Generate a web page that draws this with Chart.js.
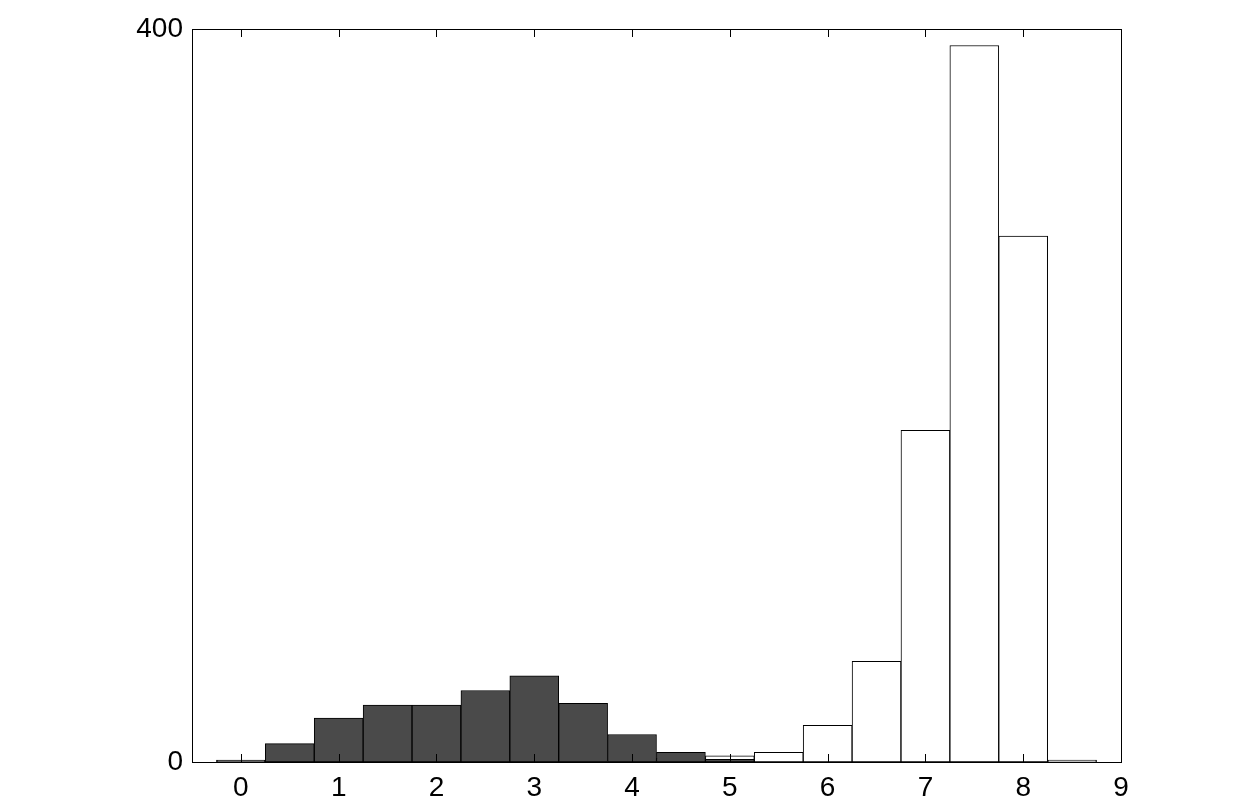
<!DOCTYPE html>
<html>
<head>
<meta charset="utf-8">
<script src="https://cdn.jsdelivr.net/npm/chart.js@4/dist/chart.umd.min.js"></script>
<style>
  html, body { margin: 0; padding: 0; background: #fff; }
  #wrap { width: 1240px; height: 806px; }
</style>
</head>
<body>
<div id="wrap"><canvas id="myChart" width="1240" height="806"></canvas></div>
<script>
  // bin centres and counts
  const binCenters = [0, 0.5, 1, 1.5, 2, 2.5, 3, 3.5, 4, 4.5, 5, 5.5, 6, 6.5, 7, 7.5, 8, 8.5];
  const darkCounts = [1, 10, 24, 31, 31, 39, 47, 32, 15, 5.3, 1.5, null, null, null, null, null, null, null];
  const whiteCounts = [null, null, null, null, null, null, null, null, null, 2, 3.3, 5.3, 20, 55, 181, 391, 287, 1];
  const xTicks = [0, 1, 2, 3, 4, 5, 6, 7, 8, 9];
  const yTicks = [0, 400];

  const toPoints = function (values) {
    return binCenters.map(function (x, i) {
      return { x: x, y: values[i] };
    });
  };

  /* box round the plot area plus small inward tick marks on all four sides */
  const framePlugin = {
    id: 'frame',
    afterDatasetsDraw: function (chart) {
      const ctx = chart.ctx;
      const area = chart.chartArea;
      const xs = chart.scales.x;
      const ys = chart.scales.y;
      const len = 8;
      ctx.save();
      ctx.strokeStyle = '#000';
      ctx.lineWidth = 1;
      ctx.beginPath();
      xTicks.forEach(function (v) {
        const px = Math.round(xs.getPixelForValue(v)) + 0.5;
        ctx.moveTo(px, area.bottom);
        ctx.lineTo(px, area.bottom - len);
        ctx.moveTo(px, area.top);
        ctx.lineTo(px, area.top + len);
      });
      yTicks.forEach(function (v) {
        const py = Math.round(ys.getPixelForValue(v)) + 0.5;
        ctx.moveTo(area.left, py);
        ctx.lineTo(area.left + len, py);
        ctx.moveTo(area.right, py);
        ctx.lineTo(area.right - len, py);
      });
      ctx.stroke();
      ctx.strokeRect(Math.round(area.left) + 0.5, Math.round(area.top) + 0.5,
        Math.round(area.right - area.left), Math.round(area.bottom - area.top));
      ctx.restore();
    },
  };

  const ctx = document.getElementById('myChart').getContext('2d');

  // eslint-disable-next-line
  const chart = new Chart(ctx, {
    type: 'bar',
    data: {
      datasets: [
        {
          label: 'dark',
          data: toPoints(darkCounts),
          backgroundColor: '#4a4a4a',
          borderColor: '#000',
          borderWidth: 1,
          borderSkipped: false,
          barPercentage: 1,
          categoryPercentage: 1,
        },
        {
          label: 'white',
          data: toPoints(whiteCounts),
          backgroundColor: '#fff',
          borderColor: '#000',
          borderWidth: 1,
          borderSkipped: false,
          barPercentage: 1,
          categoryPercentage: 1,
        },
      ],
    },
    options: {
      responsive: false,
      animation: false,
      grouped: false,
      layout: { padding: { left: 0, top: 29, right: 119, bottom: 0 } },
      plugins: {
        legend: { display: false },
        tooltip: { enabled: false },
      },
      scales: {
        x: {
          type: 'linear',
          min: -0.5,
          max: 9,
          offset: false,
          grid: { display: false, offset: false },
          border: { display: false },
          afterBuildTicks: function (scale) {
            scale.ticks = xTicks.map(function (v) { return { value: v }; });
          },
          afterFit: function (scale) { scale.height = 44; },
          ticks: {
            color: '#000',
            padding: 1,
            maxRotation: 0,
            font: { family: 'Liberation Sans, Arial, sans-serif', size: 28 },
          },
        },
        y: {
          min: 0,
          max: 400,
          grid: { display: false },
          border: { display: false },
          afterBuildTicks: function (scale) {
            scale.ticks = yTicks.map(function (v) { return { value: v }; });
          },
          afterFit: function (scale) { scale.width = 192; },
          ticks: {
            color: '#000',
            padding: 1,
            font: { family: 'Liberation Sans, Arial, sans-serif', size: 28 },
          },
        },
      },
    },
    plugins: [framePlugin],
  });
</script>
</body>
</html>
